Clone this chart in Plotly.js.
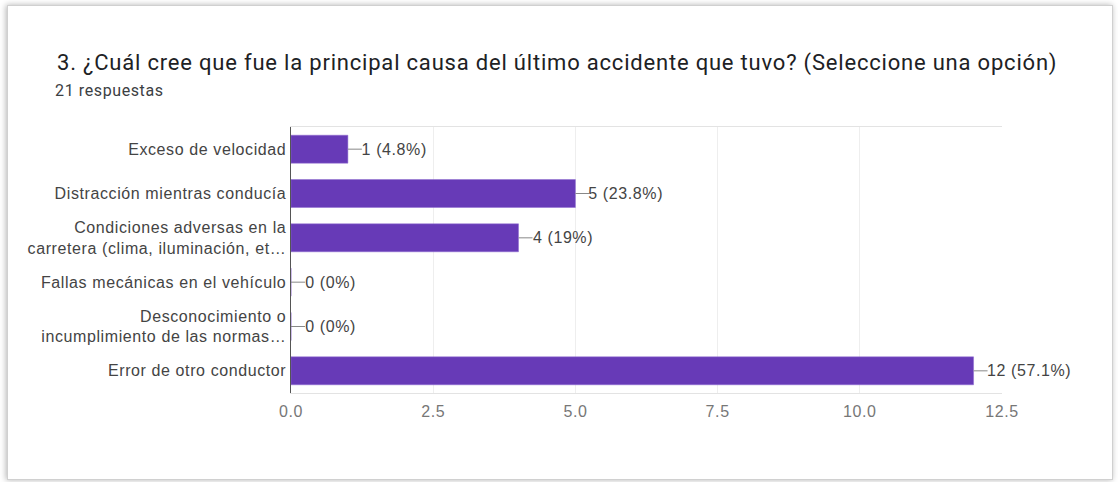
<!DOCTYPE html>
<html>
<head>
<meta charset="utf-8">
<script src="https://cdn.plot.ly/plotly-3.0.1.min.js"></script>
<style>
  html, body { margin: 0; padding: 0; background: #ffffff; }
  #card { position: absolute; left: 7px; top: 5px; width: 1104px; height: 473px;
          border: 1px solid #d0d0d0; box-shadow: -1px 0 6px rgba(0,0,0,0.3); background: #fff; }
  #chart { position: absolute; left: 0; top: 0; width: 1118px; height: 482px; }
  #chart .gtitle { letter-spacing: 0.8px; }
  #chart .ytick text, #chart .annotation-text, #chart .xtick text { letter-spacing: 0.6px; }
</style>
</head>
<body>
<div id="card"></div>
<div id="chart"></div>
<script>
const categories = [
  "Exceso de velocidad",
  "Distracción mientras conducía",
  "Condiciones adversas en la<br>carretera (clima, iluminación, et…",
  "Fallas mecánicas en el vehículo",
  "Desconocimiento o<br>incumplimiento de las normas…",
  "Error de otro conductor"
];
const counts = [1, 5, 4, 0, 0, 12];
const percentLabels = ["4.8%", "23.8%", "19%", "0%", "0%", "57.1%"];
const tickValues = [0, 2.5, 5, 7.5, 10, 12.5];
const tickLabels = ["0.0", "2.5", "5.0", "7.5", "10.0", "12.5"];
const titleText = "3. ¿Cuál cree que fue la principal causa del último accidente que tuvo? (Seleccione una opción)";
const subtitleText = "21 respuestas";

const labelFont = {family: "Liberation Sans, Arial, sans-serif", size: 16, color: "#444444"};

const annotations = categories.map((c, i) => ({
  x: counts[i], y: c, xref: "x", yref: "y",
  text: counts[i] + " (" + percentLabels[i] + ")",
  showarrow: true, arrowhead: 0, arrowwidth: 1, arrowcolor: "#888888",
  ax: 14, ay: 0, xanchor: "left", yanchor: "middle",
  font: labelFont
}));
annotations.push({
  xref: "paper", yref: "paper", x: (57 - 291) / 710, y: (393 - 90) / 266,
  xanchor: "left", yanchor: "middle", showarrow: false,
  text: subtitleText,
  font: {family: "Roboto, sans-serif", size: 16, color: "#3c4043"}
});

const data = [{
  type: "bar", orientation: "h",
  x: counts, y: categories,
  marker: {color: "#673ab7", line: {color: "#8e6ad0", width: 0.5}},
  hoverinfo: "none"
}];

const layout = {
  width: 1118, height: 482,
  paper_bgcolor: "rgba(0,0,0,0)", plot_bgcolor: "#ffffff",
  margin: {l: 291, r: 116, t: 127, b: 89},
  bargap: 0.37,
  showlegend: false,
  title: {
    text: titleText, xref: "container", yref: "container",
    x: 57 / 1118, xanchor: "left", y: 1 - 62 / 482, yanchor: "middle",
    font: {family: "Roboto, sans-serif", size: 22, color: "#202124"}
  },
  xaxis: {
    range: [0, 12.5], tickvals: tickValues, ticktext: tickLabels,
    showgrid: true, gridcolor: "#eeeeee", zeroline: false,
    showline: true, linecolor: "#e3e3e3", mirror: true,
    ticks: "", ticklabelstandoff: 4,
    tickfont: {family: "Liberation Sans, Arial, sans-serif", size: 16, color: "#777777"},
    fixedrange: true
  },
  yaxis: {
    autorange: "reversed", type: "category",
    showgrid: false, zeroline: false,
    showline: true, linecolor: "#555555", linewidth: 1.5,
    ticks: "", ticklabelstandoff: 0, tickfont: labelFont,
    fixedrange: true
  },
  annotations: annotations
};

Plotly.newPlot("chart", data, layout, {displayModeBar: false, staticPlot: true});
</script>
</body>
</html>
